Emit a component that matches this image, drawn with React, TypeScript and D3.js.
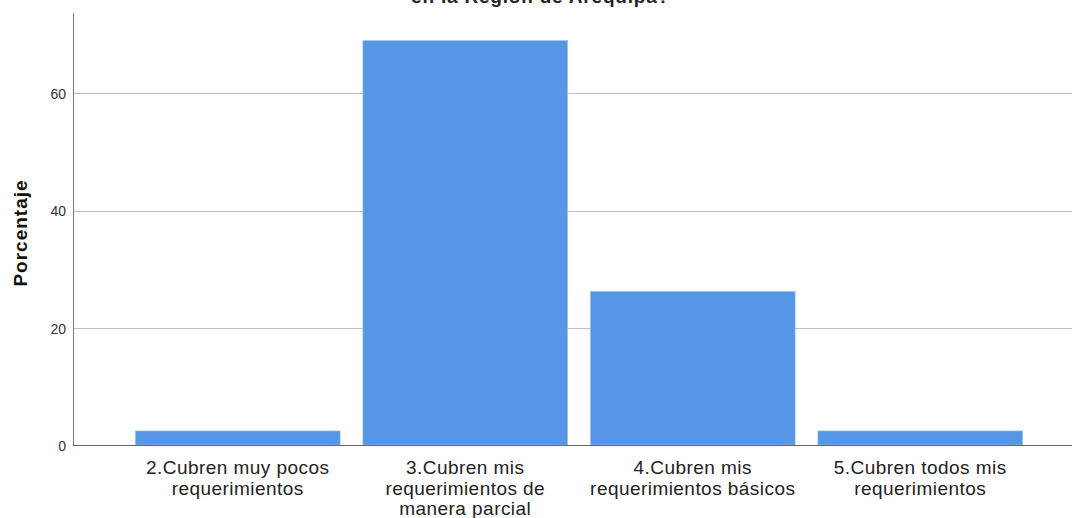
import React, { useEffect, useRef } from 'react';
import * as d3 from 'd3';

const categories = [
  '2.Cubren muy pocos requerimientos',
  '3.Cubren mis requerimientos de manera parcial',
  '4.Cubren mis requerimientos básicos',
  '5.Cubren todos mis requerimientos',
];
const labelLines = [
  ['2.Cubren muy pocos', 'requerimientos'],
  ['3.Cubren mis', 'requerimientos de', 'manera parcial'],
  ['4.Cubren mis', 'requerimientos básicos'],
  ['5.Cubren todos mis', 'requerimientos'],
];
const percentages = [2.4, 69.0, 26.2, 2.4];
const yTicks = [0, 20, 40, 60];
const titleVisible = 'en la Región de Arequipa?';

const WIDTH = 1072;
const HEIGHT = 518;
const MARGIN = { top: 13, right: 0, bottom: 73, left: 73 };

const App: React.FC = () => {
  const svgRef = useRef<SVGSVGElement>(null);

  useEffect(() => {
    const svg = d3.select(svgRef.current);
    svg.selectAll('*').remove();

    const y = d3.scaleLinear().domain([0, 73.7]).range([HEIGHT - MARGIN.bottom, MARGIN.top]);
    const x = d3.scaleBand<string>()
      .domain(categories)
      .range([124, 1034])
      .paddingInner(0.1)
      .paddingOuter(0.05);

    const font = '"Liberation Sans", Arial, sans-serif';

    // title (cut off at the top of the picture)
    svg.append('text')
      .attr('x', 670)
      .attr('y', 3)
      .attr('text-anchor', 'end')
      .style('font-family', font)
      .style('font-size', '19px')
      .style('font-weight', 'bold')
      .style('letter-spacing', '0.8px')
      .style('fill', '#222')
      .text(titleVisible);

    // gridlines
    svg.append('g')
      .selectAll('line')
      .data(yTicks.filter(t => t > 0))
      .enter().append('line')
      .attr('x1', MARGIN.left)
      .attr('x2', WIDTH)
      .attr('y1', d => Math.round(y(d)) + 0.5)
      .attr('y2', d => Math.round(y(d)) + 0.5)
      .attr('stroke', '#bdbdbd')
      .attr('stroke-width', 1);

    // bars
    svg.append('g')
      .selectAll('rect')
      .data(percentages)
      .enter().append('rect')
      .attr('x', (d, i) => x(categories[i])!)
      .attr('y', d => y(d))
      .attr('width', x.bandwidth())
      .attr('height', d => y(0) - y(d))
      .attr('fill', '#5596e6')
      .attr('stroke', '#9cc3f0')
      .attr('stroke-width', 0.6);

    // axis lines
    svg.append('line')
      .attr('x1', MARGIN.left + 0.5)
      .attr('x2', MARGIN.left + 0.5)
      .attr('y1', MARGIN.top)
      .attr('y2', y(0))
      .attr('stroke', '#777');
    svg.append('line')
      .attr('x1', MARGIN.left)
      .attr('x2', WIDTH)
      .attr('y1', Math.round(y(0)) + 0.5)
      .attr('y2', Math.round(y(0)) + 0.5)
      .attr('stroke', '#666');

    // y tick labels
    svg.append('g')
      .selectAll('text')
      .data(yTicks)
      .enter().append('text')
      .attr('x', 66)
      .attr('y', d => y(d) + 1)
      .attr('dy', '0.35em')
      .attr('text-anchor', 'end')
      .style('font-family', font)
      .style('font-size', '14px')
      .style('fill', '#333')
      .text(d => d);

    // y axis title
    svg.append('text')
      .attr('transform', `translate(27,233) rotate(-90)`)
      .attr('text-anchor', 'middle')
      .style('font-family', font)
      .style('font-size', '19px')
      .style('font-weight', 'bold')
      .style('letter-spacing', '1px')
      .style('fill', '#111')
      .text('Porcentaje');

    // x labels
    const xl = svg.append('g')
      .selectAll('text')
      .data(categories)
      .enter().append('text')
      .attr('text-anchor', 'middle')
      .style('font-family', font)
      .style('font-size', '19px')
      .style('letter-spacing', '0.45px')
      .style('fill', '#222');
    xl.each(function (d, i) {
      const t = d3.select(this);
      labelLines[i].forEach((line, j) => {
        t.append('tspan')
          .attr('x', x(d)! + x.bandwidth() / 2)
          .attr('y', 474 + j * 20.5)
          .text(line);
      });
    });
  }, []);

  return (
    <svg
      ref={svgRef}
      width={WIDTH}
      height={HEIGHT}
      style={{ position: 'absolute', left: 0, top: 0, background: '#fff' }}
    />
  );
};

export default App;
